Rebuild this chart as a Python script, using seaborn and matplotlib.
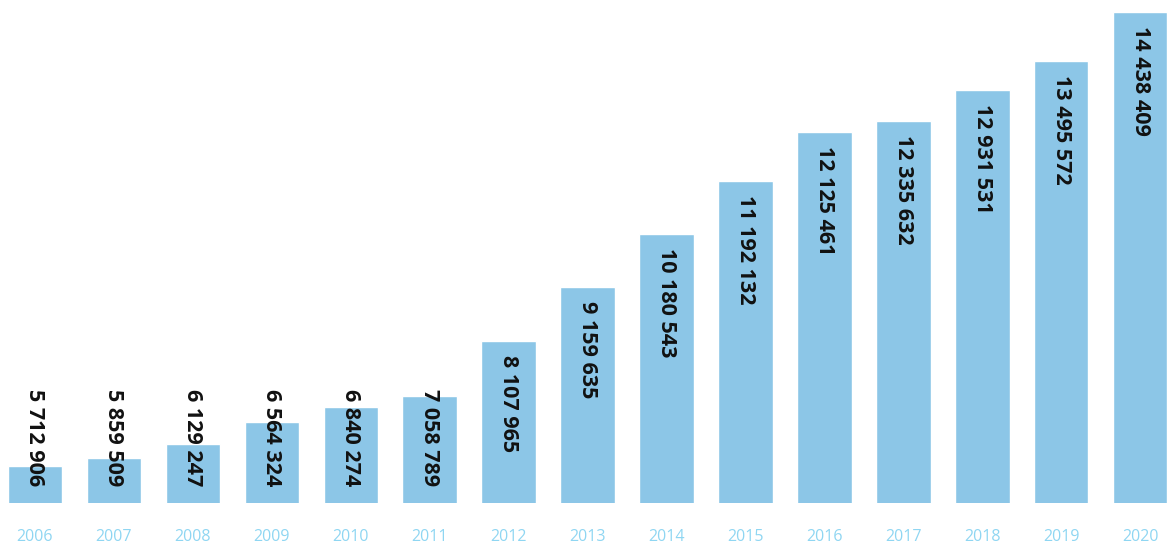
import matplotlib
matplotlib.use("Agg")
import matplotlib.pyplot as plt
import seaborn as sns
import pandas as pd

years = ["2006", "2007", "2008", "2009", "2010", "2011", "2012", "2013",
         "2014", "2015", "2016", "2017", "2018", "2019", "2020"]
values = [5712906, 5859509, 6129247, 6564324, 6840274, 7058789, 8107965, 9159635,
          10180543, 11192132, 12125461, 12335632, 12931531, 13495572, 14438409]

df = pd.DataFrame({"year": years, "value": values})

sns.set_theme(style="white")
plt.rcParams['font.family'] = ['Open Sans', 'DejaVu Sans']

fig = plt.figure(figsize=(11.67, 5.48), dpi=100)
ax = fig.add_axes([0.0, 45 / 548, 1.0, 503 / 548])

sns.barplot(data=df, x="year", y="value", color="#8cc6e7", width=0.69,
            saturation=1, ax=ax)

ax.set_xlim(-0.443, 14.34)
ax.set_ylim(5.0e6, 14.67e6)

for i, v in enumerate(values):
    y = max(v - 0.27e6, 7.2e6)
    label = f"{v:,}".replace(",", " ")
    ax.text(i, y, label, rotation=270, ha="center", va="top",
            fontsize=15.5, fontweight="bold", color="#111111")

ax.set_xlabel("")
ax.set_ylabel("")
ax.set_yticks([])
ax.tick_params(axis="x", length=0, pad=19, labelsize=11.5, labelcolor="#8fd6f2")
for s in ax.spines.values():
    s.set_visible(False)

fig.savefig("out.png", dpi=100)
